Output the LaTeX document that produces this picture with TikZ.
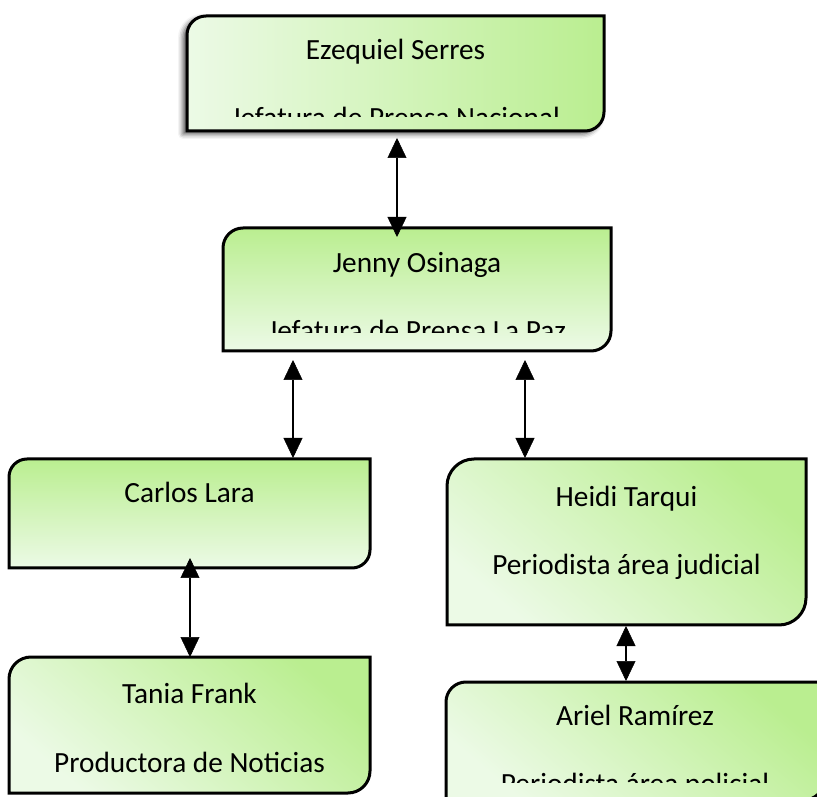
\documentclass[tikz,border=0pt]{standalone}
\usepackage{fontspec}
\setmainfont{Carlito}
\usetikzlibrary{arrows.meta,shadows.blur}
\definecolor{gdark}{RGB}{186,238,144}
\definecolor{glight}{RGB}{236,250,230}
\tikzset{
  boxline/.style={draw=black,line width=3pt},
  txt/.style={anchor=base,inner sep=0pt,font=\fontsize{29.3}{35}\selectfont},
  tip/.tip={Triangle[width=19pt,length=20pt,fill=black,line width=0.5pt]},
  link/.style={draw=black,line width=2.6pt,tip-tip},
  shhoriz/.style={left color=glight,right color=gdark},
  shvert/.style={top color=gdark,bottom color=glight},
  shdiag/.style={top color=gdark,bottom color=glight,shading angle=-40},
}
\newcommand\orgshape[6]{%
  \path[#6] (#1,#2) -- (#1,#4-#5) arc[start angle=180,end angle=90,radius=#5]
    -- (#3,#4) -- (#3,#2+#5) arc[start angle=0,end angle=-90,radius=#5] -- cycle;}
\begin{document}
\begin{tikzpicture}[x=1pt,y=1pt]
\useasboundingbox (0,0) rectangle (817,796);
% Box 1
\orgshape{187}{665}{604}{780}{19}{boxline,shhoriz,blur shadow={shadow xshift=-4pt,shadow yshift=-3pt,shadow blur radius=5pt,shadow opacity=70}}
\node[txt] (n1) at (395.5,736) {Ezequiel Serres};
\begin{scope}
\clip (187,679) rectangle (604,780);
\node[txt] (t1) at (395.5,668) {Jefatura de Prensa Nacional};
\end{scope}
% Box 2
\orgshape{223}{445}{611}{568}{20}{boxline,shvert}
\node[txt] (n2) at (417,523) {Jenny Osinaga};
\begin{scope}
\clip (223,463) rectangle (611,568);
\node[txt] (t2) at (417,455) {Jefatura de Prensa La Paz};
\end{scope}
% Box 3
\orgshape{9}{228}{370}{337}{18}{boxline,shvert}
\node[txt] (n3) at (189.5,293) {Carlos Lara};
% Box 4
\orgshape{447}{171}{806}{337}{27}{boxline,shdiag}
\node[txt] (n4) at (626.5,289) {Heidi Tarqui};
\node[txt] (t4) at (626.5,221) {Periodista área judicial};
% Box 5
\orgshape{9}{3}{370}{139}{22}{boxline,shdiag}
\node[txt] (n5) at (189.5,93) {Tania Frank};
\node[txt] (t5) at (189.5,24) {Productora de Noticias};
% Box 6
\orgshape{446}{-4}{824}{114}{20}{boxline,shdiag}
\node[txt] (n6) at (635,71) {Ariel Ramírez};
\begin{scope}
\clip (446,14) rectangle (824,114);
\node[txt] (t6) at (635,3) {Periodista área policial};
\end{scope}
% connectors
\coordinate (a1s) at (397,658); \coordinate (a1e) at (397,559);
\coordinate (a2s) at (293,436); \coordinate (a2e) at (293,338);
\coordinate (a3s) at (525,436); \coordinate (a3e) at (525,338);
\coordinate (a4s) at (190,238); \coordinate (a4e) at (190,139);
\coordinate (a5s) at (626,170); \coordinate (a5e) at (626,115);
\draw[link] (a1s) -- (a1e);
\draw[link] (a2s) -- (a2e);
\draw[link] (a3s) -- (a3e);
\draw[link] (a4s) -- (a4e);
\draw[link] (a5s) -- (a5e);
\end{tikzpicture}
\end{document}
